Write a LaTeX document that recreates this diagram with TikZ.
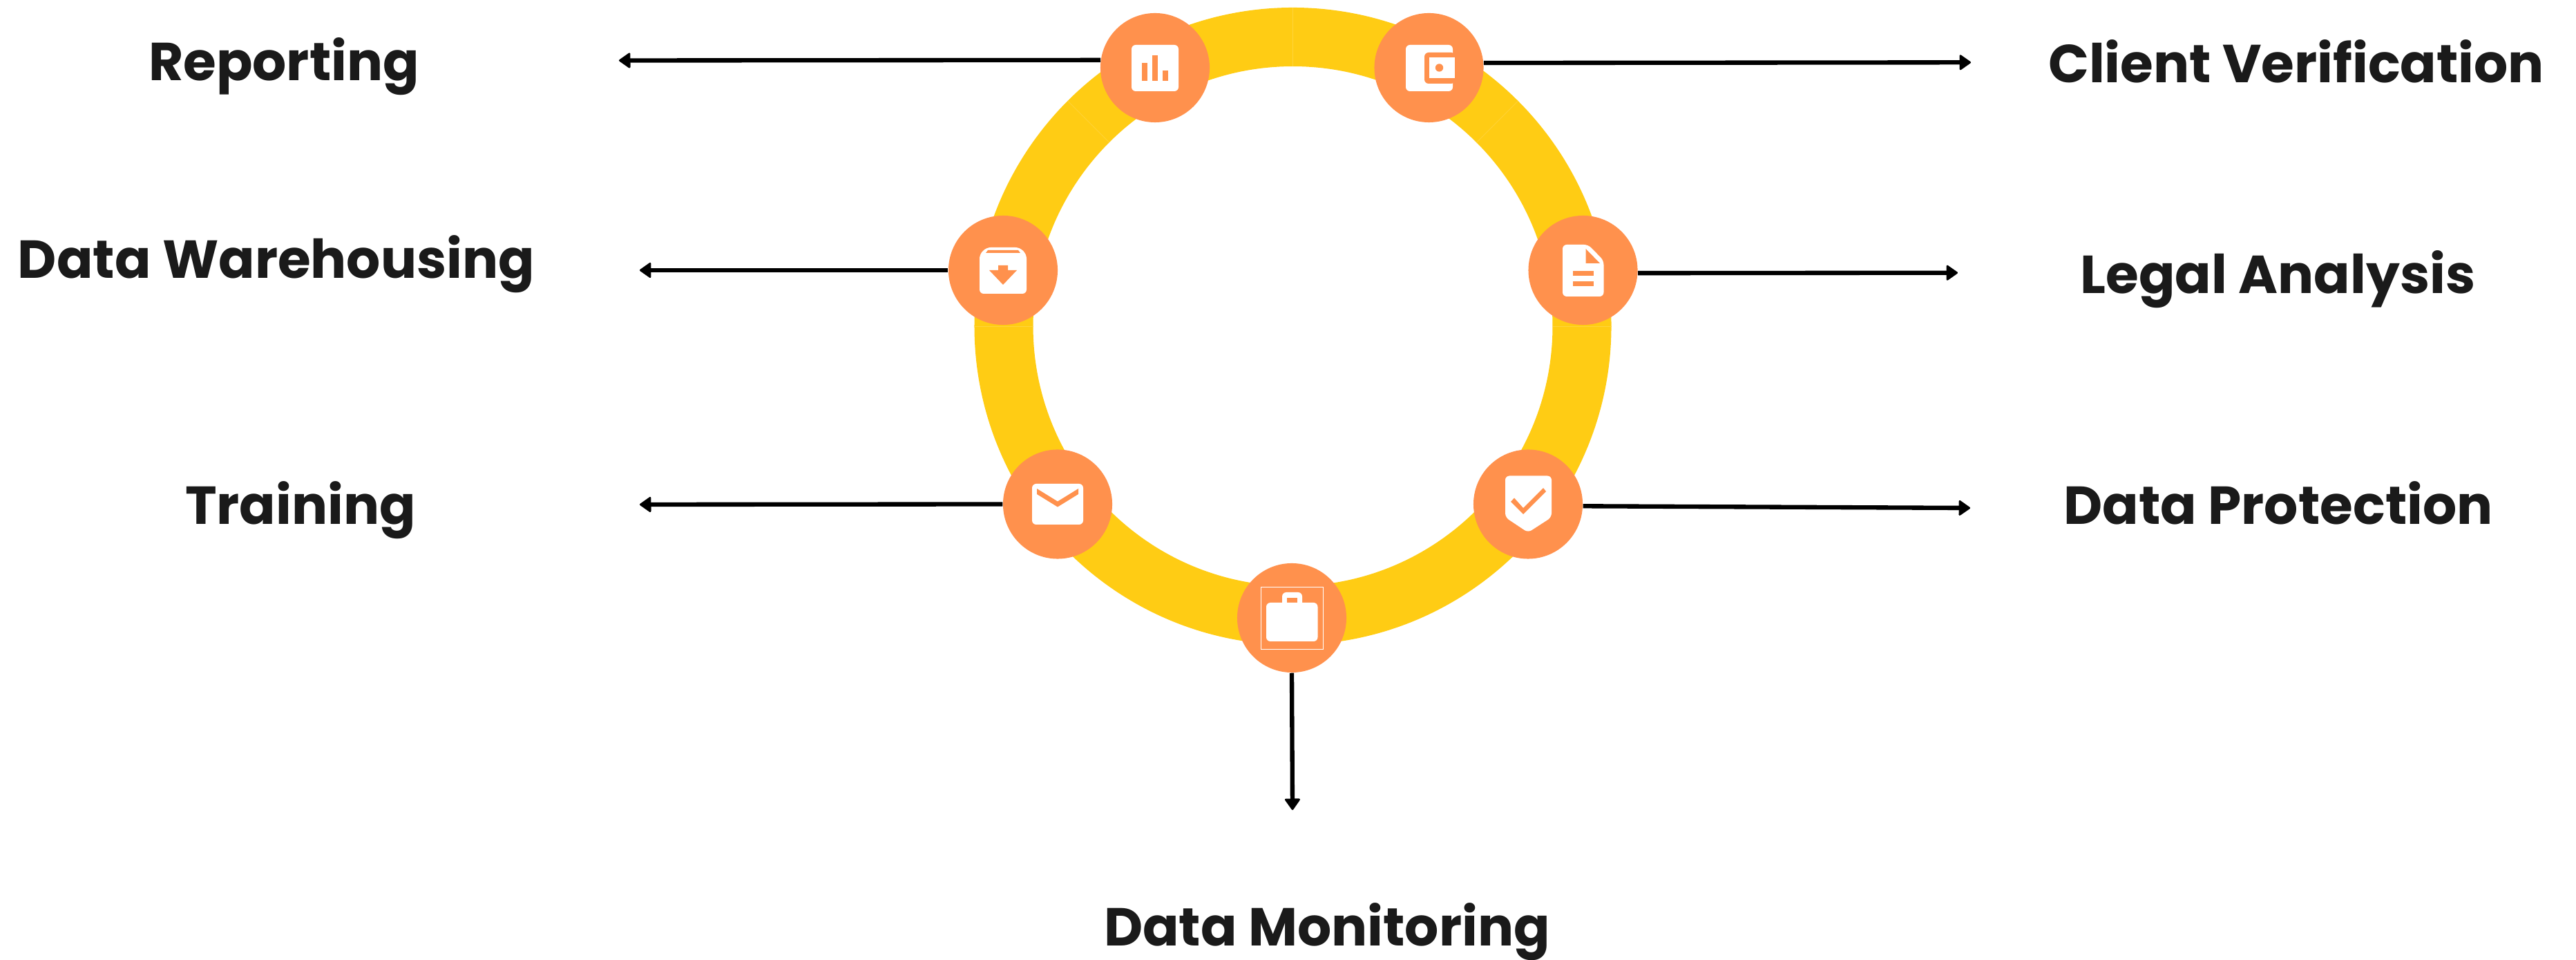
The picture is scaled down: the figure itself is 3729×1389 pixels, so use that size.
\documentclass[tikz,border=0pt]{standalone}
\usepackage{fontspec}
\setmainfont{Poppins}
\usetikzlibrary{arrows}
\usetikzlibrary{arrows.meta}
\definecolor{ringyellow}{HTML}{FFCC14}
\definecolor{seamyellow}{HTML}{FFD43C}
\definecolor{dotorange}{HTML}{FF914D}
\definecolor{labelgray}{HTML}{1A1A1A}
\tikzset{
  dot/.style={circle,fill=dotorange,inner sep=0pt,minimum size=1.58cm},
  lbl/.style={anchor=base,inner sep=0pt,text=labelgray,font=\fontsize{22}{27}\selectfont\bfseries},
  conn/.style={line width=1.8pt,-{Triangle[length=5pt,width=6.8pt,round,line width=0.8pt]}},
  plate/.style={fill=white,rounded corners=0.06cm},
  cut/.style={fill=dotorange}
}
\begin{document}
\begin{tikzpicture}[x=0.01cm,y=-0.01cm]
\useasboundingbox (0,0) rectangle (3729,1389);
\draw[color=ringyellow,line width=0.85cm] (1871.5,472) circle (418.5);
\foreach \a in {0,45,90,135,180,225,270,315}
  \draw[color=seamyellow,line width=0.2pt] (1871.5,472) ++(\a:376) -- ++(\a:85);
\node[dot] (rep) at (1672,98) {};
\node[dot] (wal) at (2068.5,98) {};
\node[dot] (war) at (1452,391) {};
\node[dot] (leg) at (2291.5,391) {};
\node[dot] (tra) at (1531,729.5) {};
\node[dot] (pro) at (2212,729.5) {};
\node[dot] (mon) at (1870,894) {};
\node[lbl] (lrep) at (411,117) {Reporting};
\node[lbl] (lwar) at (400,403) {Data Warehousing};
\node[lbl] (ltra) at (435,759) {Training};
\node[lbl] (lwal) at (3324,120) {Client Verification};
\node[lbl] (lleg) at (3297.5,424.5) {Legal Analysis};
\node[lbl] (lpro) at (3298,759) {Data Protection};
\node[lbl] (lmon) at (1921,1369) {Data Monitoring};
\coordinate (trep) at (896,87.5);
\coordinate (twal) at (2853,90.3);
\coordinate (twar) at (926,391);
\coordinate (tleg) at (2834,394.7);
\coordinate (ttra) at (926,730);
\coordinate (tpro) at (2852,735);
\coordinate (tmon) at (1871,1172);
\draw[conn] (rep.172.4) -- (trep);
\draw[conn] (wal.5.8) -- (twal);
\draw[conn] (war.west) -- (twar);
\draw[conn] (leg.357.3) -- (tleg);
\draw[conn] (tra.west) -- (ttra);
\draw[conn] (pro.358.2) -- (tpro);
\draw[conn] (mon.south) -- (tmon);
\begin{scope}[shift={(rep)}]
\fill[plate] (-34,-33) rectangle (34,34);
\fill[cut] (-19,-7) rectangle (-11,19);
\fill[cut] (-4,-18) rectangle (4,19);
\fill[cut] (11,4) rectangle (19,19);
\end{scope}
\begin{scope}[shift={(wal)}]
\fill[plate] (-33.5,-33) rectangle (34.5,34);
\fill[cut,rounded corners=0.06cm] (-6.5,-22) rectangle (38,23);
\fill[white] (0.5,-15) rectangle (37.5,15);
\fill[cut] (15,0) circle (5.7);
\end{scope}
\begin{scope}[shift={(war)}]
\fill[plate] (-24,-33) -- (24,-33) -- (34,-23) -- (34,34) -- (-34,34) -- (-34,-23) -- cycle;
\fill[cut] (-22,-29) -- (22,-29) -- (25,-25) -- (-25,-25) -- cycle;
\fill[cut] (-7,-7) -- (7,-7) -- (7,0) -- (20,0) -- (0,21) -- (-20,0) -- (-7,0) -- cycle;
\end{scope}
\begin{scope}[shift={(leg)}]
\fill[plate] (-29.5,-37) -- (7.5,-37) -- (30,-14) -- (30,38) -- (-29.5,38) -- cycle;
\fill[cut] (4,-31) -- (4,-10) -- (24.5,-10) -- cycle;
\fill[cut] (-15,1) rectangle (15,8);
\fill[cut] (-15,16) rectangle (15,23);
\end{scope}
\begin{scope}[shift={(tra)}]
\fill[plate] (-37,-29.5) rectangle (37,29.5);
\fill[cut] (-30,-22.5) -- (0,-4) -- (30,-22.5) -- (30,-14.5) -- (0,4) -- (-30,-14.5) -- cycle;
\end{scope}
\begin{scope}[shift={(pro)}]
\fill[plate] (-33,-41) -- (34,-41) -- (34,19) -- (0,41) -- (-33,19) -- cycle;
\fill[cut] (-25,-3.5) -- (-20,-9) -- (-7,5.5) -- (22,-23.5) -- (26,-18.5) -- (-7,14.5) -- cycle;
\end{scope}
\begin{scope}[shift={(mon)}]
\draw[color=white,line width=0.25pt] (-45,-45) rectangle (45.5,45);
\fill[plate] (-14,-37) rectangle (15,-15);
\fill[cut] (-7,-29) rectangle (8,-15);
\fill[plate] (-37,-22) rectangle (37.5,34);
\end{scope}
\end{tikzpicture}
\end{document}
